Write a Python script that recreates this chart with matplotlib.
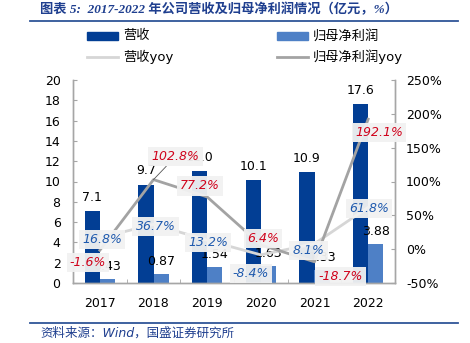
import matplotlib
matplotlib.use("Agg")
import matplotlib.pyplot as plt
from matplotlib.lines import Line2D
from matplotlib.patches import Rectangle
import numpy as np

plt.rcParams['font.family'] = ['DejaVu Sans', 'Noto Sans CJK SC']

years = ['2017', '2018', '2019', '2020', '2021', '2022']
revenue = [7.1, 9.7, 11.0, 10.1, 10.9, 17.6]
net_profit = [0.43, 0.87, 1.54, 1.63, 1.33, 3.88]
revenue_yoy = [16.8, 36.7, 13.2, -8.4, 8.1, 61.8]
profit_yoy = [-1.6, 102.8, 77.2, 6.4, -18.7, 192.1]
left_ticks = [0, 2, 4, 6, 8, 10, 12, 14, 16, 18, 20]
right_ticks = [-50, 0, 50, 100, 150, 200, 250]

C_DARK = '#023E94'
C_LIGHT = '#4E80C6'
C_LINE_REV = '#D6D6D6'
C_LINE_PROF = '#A3A3A3'
C_RED = '#D0021B'
C_BLUE = '#1F5AAE'
C_TITLE = '#1F3F8F'
C_RULE = '#2F5597'
C_SPINE = '#A6A6A6'

W, H = 470, 343
fig = plt.figure(figsize=(W / 100, H / 100), dpi=100)
ax = fig.add_axes([73 / W, 1 - 283 / H, (395 - 73) / W, (283 - 80) / H])
ax2 = ax.twinx()

x = np.arange(len(years))
bw = 0.28
ax.bar(x - bw / 2, revenue, bw, color=C_DARK, zorder=2)
ax.bar(x + bw / 2, net_profit, bw, color=C_LIGHT, zorder=2)
ax.set_ylim(0, 20)
ax.set_xlim(-0.5, len(years) - 0.5)
ax.set_yticks(left_ticks)
ax.set_yticklabels([str(t) for t in left_ticks])
ax.set_xticks(x)
ax.set_xticklabels(years)
ax.set_xticks(np.arange(-0.5, len(years), 1.0), minor=True)
ax.tick_params(axis='x', which='major', length=0, pad=10, labelsize=9)
ax.tick_params(axis='x', which='minor', direction='in', length=3, color=C_SPINE)
ax.tick_params(axis='y', direction='in', length=3, color=C_SPINE, pad=9, labelsize=9)

ax2.set_ylim(-50, 250)
ax2.set_yticks(right_ticks)
ax2.set_yticklabels([f'{t}%' for t in right_ticks])
ax2.tick_params(axis='y', direction='in', length=3, color=C_SPINE, pad=8, labelsize=9)

for a in (ax, ax2):
    a.spines['top'].set_visible(False)
    for s in ('left', 'right', 'bottom'):
        a.spines[s].set_color(C_SPINE)
        a.spines[s].set_linewidth(1.0)

# bar value labels
for xi, v in zip(x, revenue):
    ax.annotate(f'{v:.1f}', (xi - bw / 2, v), xytext=(0, 10), textcoords='offset points',
                ha='center', va='center', fontsize=9, color='black', zorder=3)
for xi, v in zip(x, net_profit):
    ax.annotate(f'{v:.2f}', (xi + bw / 2, v), xytext=(0, 9), textcoords='offset points',
                ha='center', va='center', fontsize=9, color='black', zorder=3)

# yoy lines
ax2.plot(x, revenue_yoy, color=C_LINE_REV, lw=2.0, zorder=4)
ax2.plot(x, profit_yoy, color=C_LINE_PROF, lw=2.0, zorder=4)

# yoy labels (pixel offsets converted to points)
px = 0.72
rev_off = [(2, 2), (2, 2), (1, 2), (-10, 19), (-6, 7), (1, 1)]
prof_off = [(-12, 12), (22, -23), (-7, -11), (2, -6), (26, 15), (11, 13)]
box = dict(boxstyle='square,pad=0.25', facecolor='#F2F2F2', edgecolor='none', alpha=0.95)
for xi, v, (dx, dy) in zip(x, revenue_yoy, rev_off):
    ax2.annotate(f'{v:.1f}%', (xi, v), xytext=(dx * px, -dy * px), textcoords='offset points',
                 ha='center', va='center', fontsize=9, style='italic', color=C_BLUE,
                 bbox=box, zorder=6)
for i, (xi, v, (dx, dy)) in enumerate(zip(x, profit_yoy, prof_off)):
    arrow = dict(arrowstyle='-', color='#555555', lw=0.6, shrinkA=0, shrinkB=0) if i == 1 else None
    ax2.annotate(f'{v:.1f}%', (xi, v), xytext=(dx * px, -dy * px), textcoords='offset points',
                 ha='center', va='center', fontsize=9, style='italic', color=C_RED,
                 bbox=box, zorder=6, arrowprops=arrow)
ax2.set_zorder(ax.get_zorder() + 1)
ax2.patch.set_visible(False)

# title and rules
fig.text(40 / W, 1 - 9 / H, '图表 5:  2017-2022 年公司营收及归母净利润情况（亿元，%）',
         fontsize=9.5, style='italic', weight='bold', color=C_TITLE, va='center', ha='left',
         family=['Liberation Serif', 'Noto Sans CJK SC'])
fig.add_artist(Line2D([30 / W, 458 / W], [1 - 21 / H, 1 - 21 / H], color=C_RULE, lw=1.3))
fig.add_artist(Line2D([30 / W, 458 / W], [1 - 323 / H, 1 - 323 / H], color=C_RULE, lw=1.3))
fig.text(40 / W, 1 - 333 / H, '资料来源：Wind，国盛证券研究所', fontsize=9, style='italic',
         color=C_TITLE, va='center', ha='left')

# legend
def leg_patch(x0, y, color, label):
    fig.add_artist(Rectangle((x0 / W, 1 - (y + 4) / H), 31 / W, 8 / H, color=color,
                             transform=fig.transFigure))
    fig.text((x0 + 36) / W, 1 - y / H, label, fontsize=9.5, va='center', ha='left')

def leg_line(x0, y, color, label):
    fig.add_artist(Line2D([x0 / W, (x0 + 31) / W], [1 - y / H, 1 - y / H], color=color, lw=2))
    fig.text((x0 + 36) / W, 1 - y / H, label, fontsize=9.5, va='center', ha='left')

leg_patch(87, 36, C_DARK, '营收')
leg_patch(277, 36, C_LIGHT, '归母净利润')
leg_line(87, 57, C_LINE_REV, '营收yoy')
leg_line(277, 57, C_LINE_PROF, '归母净利润yoy')

fig.savefig('out.png', dpi=100)
